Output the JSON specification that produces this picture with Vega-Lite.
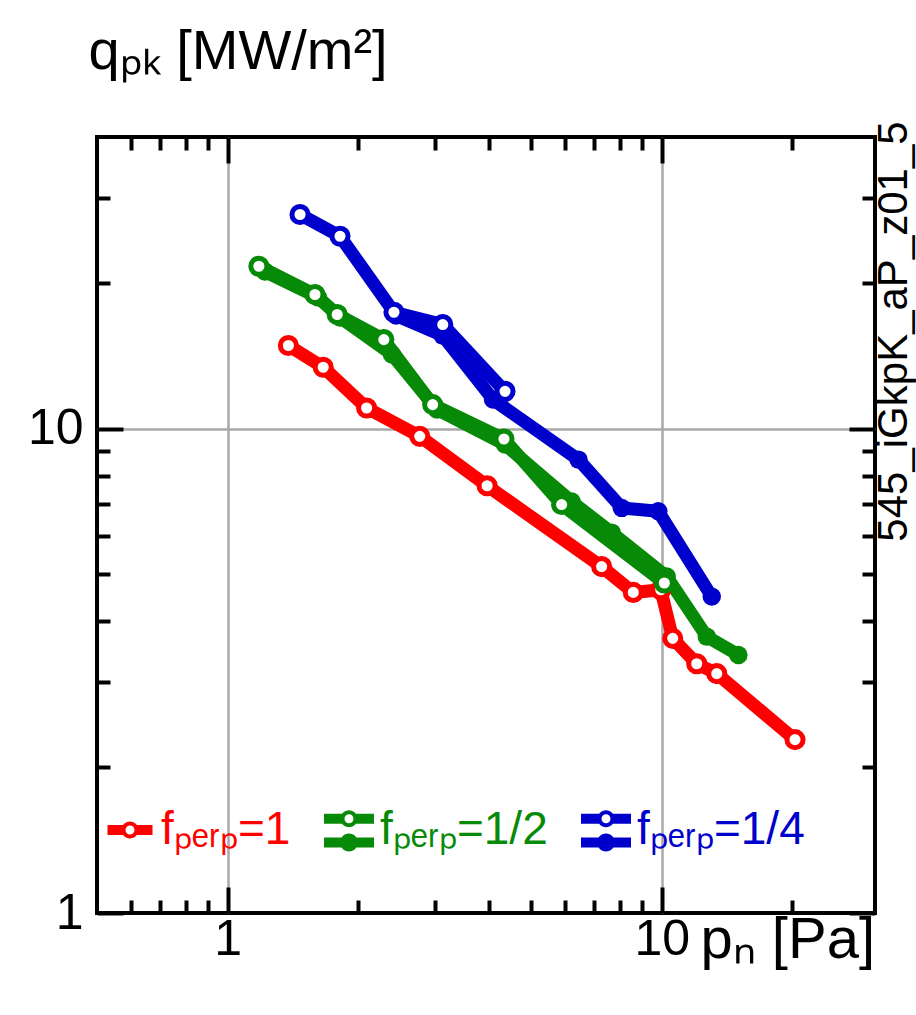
{
  "$schema": "https://vega.github.io/schema/vega-lite/v6.json",
  "width": 778,
  "height": 776,
  "autosize": {"type": "none"},
  "padding": {"left": 97, "top": 137, "right": 41, "bottom": 102},
  "background": "white",
  "config": {
    "font": "Liberation Sans",
    "view": {"stroke": "black", "strokeWidth": 4},
    "axis": {
      "domain": false,
      "tickColor": "black",
      "tickWidth": 4,
      "labelFont": "Liberation Sans",
      "labelFontSize": 50,
      "labelColor": "black",
      "labelFlush": false,
      "labelOverlap": false,
      "titleFont": "Liberation Sans",
      "titleFontWeight": "normal",
      "titleColor": "black",
      "gridColor": "#a9a9a9",
      "gridWidth": 2.5
    }
  },
  "data": {
    "values": [
      {"f_perp": "1", "series": "open", "p": 1.38, "q": 14.85},
      {"f_perp": "1", "series": "open", "p": 1.66, "q": 13.39},
      {"f_perp": "1", "series": "open", "p": 2.09, "q": 11.03},
      {"f_perp": "1", "series": "open", "p": 2.77, "q": 9.64},
      {"f_perp": "1", "series": "open", "p": 3.96, "q": 7.62},
      {"f_perp": "1", "series": "open", "p": 7.27, "q": 5.19},
      {"f_perp": "1", "series": "open", "p": 8.6, "q": 4.59},
      {"f_perp": "1", "series": "open", "p": 9.95, "q": 4.65},
      {"f_perp": "1", "series": "open", "p": 10.6, "q": 3.69},
      {"f_perp": "1", "series": "open", "p": 12.04, "q": 3.27},
      {"f_perp": "1", "series": "open", "p": 13.39, "q": 3.12},
      {"f_perp": "1", "series": "open", "p": 20.28, "q": 2.28},
      {"f_perp": "1/2", "series": "open", "p": 1.18, "q": 21.64},
      {"f_perp": "1/2", "series": "open", "p": 1.589, "q": 18.92},
      {"f_perp": "1/2", "series": "open", "p": 1.788, "q": 17.2},
      {"f_perp": "1/2", "series": "open", "p": 2.29, "q": 15.27},
      {"f_perp": "1/2", "series": "open", "p": 2.967, "q": 11.21},
      {"f_perp": "1/2", "series": "open", "p": 4.33, "q": 9.52},
      {"f_perp": "1/2", "series": "open", "p": 5.88, "q": 6.97},
      {"f_perp": "1/2", "series": "open", "p": 10.14, "q": 4.8},
      {"f_perp": "1/2", "series": "filled", "p": 1.219, "q": 21.1},
      {"f_perp": "1/2", "series": "filled", "p": 1.615, "q": 18.66},
      {"f_perp": "1/2", "series": "filled", "p": 1.815, "q": 16.96},
      {"f_perp": "1/2", "series": "filled", "p": 2.391, "q": 14.22},
      {"f_perp": "1/2", "series": "filled", "p": 3.035, "q": 10.95},
      {"f_perp": "1/2", "series": "filled", "p": 4.355, "q": 9.27},
      {"f_perp": "1/2", "series": "filled", "p": 6.2, "q": 7.07},
      {"f_perp": "1/2", "series": "filled", "p": 7.67, "q": 6.1},
      {"f_perp": "1/2", "series": "filled", "p": 10.27, "q": 4.95},
      {"f_perp": "1/2", "series": "filled", "p": 12.7, "q": 3.72},
      {"f_perp": "1/2", "series": "filled", "p": 15.02, "q": 3.41},
      {"f_perp": "1/4", "series": "open", "p": 1.468, "q": 27.68},
      {"f_perp": "1/4", "series": "open", "p": 1.815, "q": 24.96},
      {"f_perp": "1/4", "series": "open", "p": 2.416, "q": 17.39},
      {"f_perp": "1/4", "series": "open", "p": 3.13, "q": 16.4},
      {"f_perp": "1/4", "series": "open", "p": 4.355, "q": 11.94},
      {"f_perp": "1/4", "series": "filled", "p": 2.443, "q": 17.12},
      {"f_perp": "1/4", "series": "filled", "p": 3.13, "q": 15.56},
      {"f_perp": "1/4", "series": "filled", "p": 4.086, "q": 11.48},
      {"f_perp": "1/4", "series": "filled", "p": 6.43, "q": 8.63},
      {"f_perp": "1/4", "series": "filled", "p": 8.09, "q": 6.86},
      {"f_perp": "1/4", "series": "filled", "p": 9.82, "q": 6.75},
      {"f_perp": "1/4", "series": "filled", "p": 13.04, "q": 4.5}
    ]
  },
  "layer": [
    {
      "mark": {"type": "line", "strokeWidth": 13, "strokeJoin": "round", "strokeCap": "round"},
      "encoding": {
        "x": {
          "field": "p", "type": "quantitative",
          "scale": {"type": "log", "domain": [0.5, 31], "nice": false},
          "axis": {
            "orient": "bottom",
            "values": [0.6, 0.7, 0.8, 0.9, 1, 2, 3, 4, 5, 6, 7, 8, 9, 10, 20],
            "labelExpr": "datum.value === 1 || datum.value === 10 ? datum.value + '' : ''",
            "tickSize": {"condition": {"test": "datum.value === 1 || datum.value === 10", "value": -26}, "value": -13},
            "labelPadding": 27,
            "grid": true,
            "gridOpacity": {"condition": {"test": "datum.value === 1 || datum.value === 10", "value": 1}, "value": 0},
            "title": "pₙ [Pa]",
            "titleX": 603,
            "titleY": 44,
            "titleAlign": "left",
            "titleBaseline": "alphabetic",
            "titleFontSize": 58
          }
        },
        "y": {
          "field": "q", "type": "quantitative",
          "scale": {"type": "log", "domain": [1, 40], "nice": false},
          "axis": {
            "orient": "left",
            "values": [1, 2, 3, 4, 5, 6, 7, 8, 9, 10, 20, 30],
            "labelExpr": "datum.value === 1 || datum.value === 10 ? datum.value + '' : ''",
            "tickSize": {"condition": {"test": "datum.value === 1 || datum.value === 10", "value": -26}, "value": -13},
            "labelPadding": 40,
            "grid": true,
            "gridOpacity": {"condition": {"test": "datum.value === 10", "value": 1}, "value": 0},
            "title": "qₚₖ [MW/m²]",
            "titleAngle": 0,
            "titleAlign": "left",
            "titleBaseline": "alphabetic",
            "titleX": -9,
            "titleY": -69,
            "titleFontSize": 56
          }
        },
        "color": {
          "field": "f_perp", "type": "nominal",
          "scale": {"domain": ["1", "1/2", "1/4"], "range": ["#ff0000", "#078a07", "#0000cc"]},
          "legend": {
            "orient": "none",
            "legendX": 8,
            "legendY": 668,
            "direction": "horizontal",
            "columns": 3,
            "title": null,
            "padding": 0,
            "labelFont": "Liberation Sans",
            "labelFontSize": 46,
            "labelLimit": 400,
            "labelOffset": 6,
            "columnPadding": 33,
            "symbolSize": 2500,
            "labelExpr": "'fₚₑᵣₚ=' + datum.label",
            "encode": {
              "symbols": {
                "update": {
                  "shape": {"signal": "datum.value === '1' ? 'M-0.9,-0.2L-0.26,-0.2L-0.26,0.2L-0.9,0.2Z M0.26,-0.2L0.9,-0.2L0.9,0.2L0.26,0.2Z M-0.34,0A0.34,0.34 0 1,1 0.34,0A0.34,0.34 0 1,1 -0.34,0Z M-0.18,0A0.18,0.18 0 1,0 0.18,0A0.18,0.18 0 1,0 -0.18,0Z' : 'M-1,-0.65L-0.26,-0.65L-0.26,-0.25L-1,-0.25Z M0.26,-0.65L1,-0.65L1,-0.25L0.26,-0.25Z M-0.34,-0.45A0.34,0.34 0 1,1 0.34,-0.45A0.34,0.34 0 1,1 -0.34,-0.45Z M-0.18,-0.45A0.18,0.18 0 1,0 0.18,-0.45A0.18,0.18 0 1,0 -0.18,-0.45Z M-1,0.3L1,0.3L1,0.7L-1,0.7Z M-0.36,0.5A0.36,0.36 0 1,1 0.36,0.5A0.36,0.36 0 1,1 -0.36,0.5Z'"},
                  "fill": {"scale": "color", "field": "value"},
                  "stroke": {"value": "transparent"},
                  "strokeWidth": {"value": 0},
                  "opacity": {"value": 1}
                }
              },
              "labels": {
                "update": {
                  "fill": {"scale": "color", "field": "value"}
                }
              }
            }
          }
        },
        "detail": {"field": "series"}
      }
    },
    {
      "transform": [{"filter": "datum.series === 'filled'"}],
      "mark": {"type": "circle", "size": 340, "opacity": 1},
      "encoding": {
        "x": {"field": "p", "type": "quantitative", "axis": null},
        "y": {"field": "q", "type": "quantitative", "axis": null},
        "fill": {
          "field": "f_perp", "type": "nominal",
          "scale": {"domain": ["1", "1/2", "1/4"], "range": ["#ff0000", "#078a07", "#0000cc"]},
          "legend": null
        }
      }
    },
    {
      "transform": [{"filter": "datum.series === 'open'"}],
      "mark": {"type": "point", "shape": "circle", "filled": true, "fill": "white", "fillOpacity": 1, "strokeWidth": 5, "size": 260, "opacity": 1},
      "encoding": {
        "x": {
          "field": "p", "type": "quantitative",
          "axis": {
            "orient": "top",
            "values": [0.6, 0.7, 0.8, 0.9, 1, 2, 3, 4, 5, 6, 7, 8, 9, 10, 20],
            "labels": false,
            "grid": false,
            "tickSize": {"condition": {"test": "datum.value === 1 || datum.value === 10", "value": -26}, "value": -13},
            "title": null
          }
        },
        "y": {
          "field": "q", "type": "quantitative",
          "axis": {
            "orient": "right",
            "values": [1, 2, 3, 4, 5, 6, 7, 8, 9, 10, 20, 30],
            "labels": false,
            "grid": false,
            "tickSize": {"condition": {"test": "datum.value === 1 || datum.value === 10", "value": -26}, "value": -13},
            "title": "545_iGkpK_aP_z01_5",
            "titleAngle": 270,
            "titleX": 18,
            "titleY": 194,
            "titleAlign": "center",
            "titleBaseline": "middle",
            "titleFontSize": 42
          }
        },
        "stroke": {
          "field": "f_perp", "type": "nominal",
          "scale": {"domain": ["1", "1/2", "1/4"], "range": ["#ff0000", "#078a07", "#0000cc"]},
          "legend": null
        }
      }
    }
  ]
}
